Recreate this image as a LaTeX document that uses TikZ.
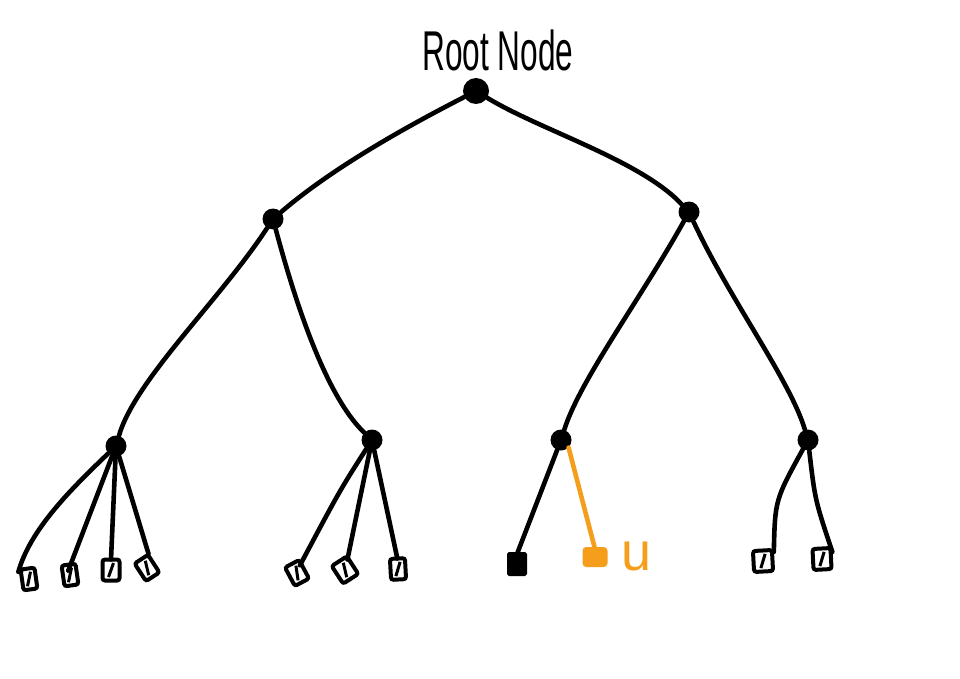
\documentclass[tikz,border=0pt]{standalone}
\usepackage{fontspec}
\setmainfont{Liberation Sans}
\definecolor{uorange}{RGB}{245,158,28}
\begin{document}
\begin{tikzpicture}[x=1pt,y=-1pt,
  edge/.style={line width=4.6pt,line cap=round},
  dot/.style={circle,fill=black,inner sep=0pt,minimum size=#1},
  dot/.default=21pt,
  leafbox/.style={draw,line width=4pt,rounded corners=2.5pt,minimum width=14pt,minimum height=21pt,inner sep=0pt,rotate=8,
    path picture={\draw[line width=3pt] ([xshift=-2.5pt,yshift=-7pt]path picture bounding box.center) -- ([xshift=2.5pt,yshift=7pt]path picture bounding box.center);}},
  fullleaf/.style={draw,fill=black,line width=3pt,rounded corners=1pt,minimum width=17pt,minimum height=21pt,inner sep=0pt}
]
\useasboundingbox (0,0) rectangle (960,679);
% internal nodes
\node[dot=26pt] (root) at (476,91) {};
\node[dot] (l) at (273,219) {};
\node[dot] (r) at (689,212) {};
\node[dot] (ll) at (116,446) {};
\node[dot] (lr) at (372,440) {};
\node[dot] (rl) at (561,440) {};
\node[dot] (rr) at (808,440) {};
% label
\node (rootlabel) at (498,50) {\scalebox{0.93}[1.65]{\fontsize{34}{40}\selectfont Root Node}};
% leaves
\node[leafbox] (a1) at (29,579) {};
\node[leafbox] (a2) at (70,575) {};
\node[leafbox,rotate=-8,minimum width=17pt] (a3) at (111,570) {};
\node[leafbox,rotate=25,minimum width=16pt] (a4) at (147,568) {};
\node[leafbox,rotate=20,minimum width=16pt] (b1) at (297,573) {};
\node[leafbox,rotate=25,minimum width=18pt] (b2) at (345,570) {};
\node[leafbox,rotate=-5,minimum width=15pt] (b3) at (398,569) {};
\node[fullleaf] (c1) at (517,564) {};
\node[draw=uorange,fill=uorange,line width=3pt,rounded corners=2.5pt,minimum width=22pt,minimum height=17pt,inner sep=0pt] (c2) at (595,557) {};
\node[text=uorange] (ulabel) at (637,556) {\scalebox{1.35}[1.35]{\fontsize{40}{46}\selectfont u}};
\node[leafbox,rotate=-5,minimum width=19pt] (d1) at (763,561) {};
\node[leafbox,rotate=-5,minimum width=18pt] (d2) at (822,559) {};
% edges
\draw[edge] (root) .. controls (400,130) and (330,170) .. (l);
\draw[edge] (root) .. controls (540,130) and (640,160) .. (r);
\draw[edge] (l) .. controls (220,300) and (135,380) .. (ll);
\draw[edge] (l) .. controls (300,320) and (330,400) .. (lr);
\draw[edge] (r) .. controls (640,300) and (580,380) .. (rl);
\draw[edge] (r) .. controls (730,300) and (790,380) .. (rr);
\draw[edge] (ll) .. controls (70,490) and (30,530) .. ([yshift=-4pt]a1.north west);
\draw[edge] (ll) -- ([yshift=-8pt]a2.north);
\draw[edge] (ll) -- ([yshift=-2pt]a3.north);
\draw[edge] (ll) -- ([yshift=-2pt]a4.north east);
\draw[edge] (lr) .. controls (340,490) .. ([yshift=-8pt]b1.north east);
\draw[edge] (lr) -- ([yshift=-6pt]b2.north east);
\draw[edge] (lr) -- ([yshift=-2pt]b3.north);
\draw[edge] (rl) -- ([yshift=-2pt]c1.north);
\draw[edge,uorange] (rl.south east) -- ([yshift=-2pt]c2.north);
\draw[edge] (rr) .. controls (775,500) .. ([yshift=-4pt]d1.north east);
\draw[edge] (rr) .. controls (815,500) .. ([yshift=-6pt]d2.north east);
\end{tikzpicture}
\end{document}
